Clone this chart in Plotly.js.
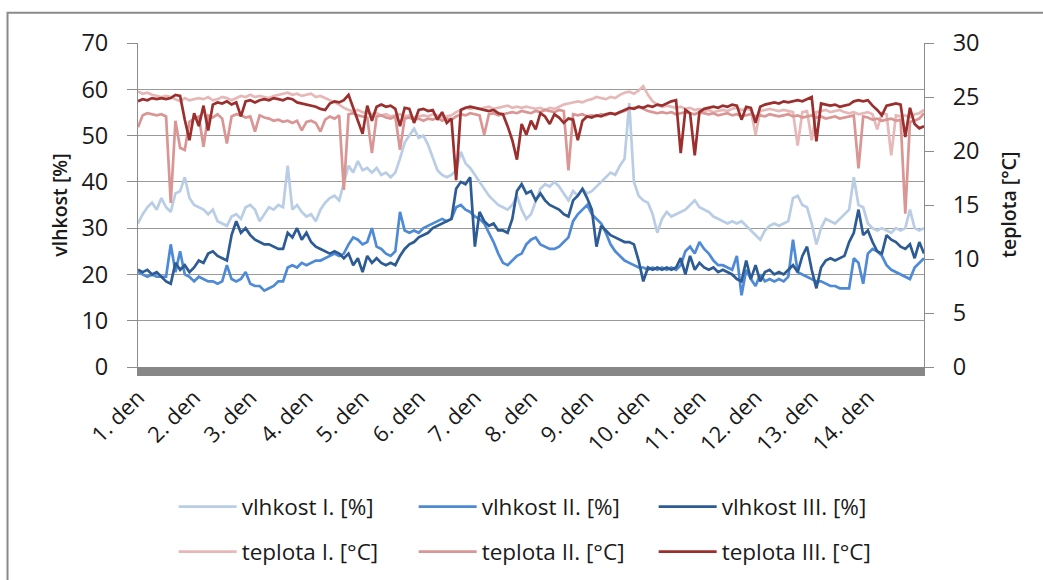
<!DOCTYPE html>
<html>
<head>
<meta charset="utf-8">
<script src="https://cdn.plot.ly/plotly-3.0.1.min.js"></script>
<style>
  html, body { margin: 0; padding: 0; background: #ffffff; }
  #chart { width: 1043px; height: 580px; }
</style>
</head>
<body>
<div id="chart"></div>
<script>
// ---- data (12 readings per day, 14 days) ----
const PTS_PER_DAY = 12;
const dayLabels = ["1. den","2. den","3. den","4. den","5. den","6. den","7. den",
                   "8. den","9. den","10. den","11. den","12. den","13. den","14. den"];
const leftTitle = 'vlhkost [%]';
const rightTitle = 'teplota [°C]';

const vlhkostI = [
  31, 33, 34.5, 35.5, 34, 36.5, 34.5, 33.5, 37.5, 38, 41, 36.5, 35,
  34.5, 34, 33, 34, 31.5, 31, 30.5, 32.5, 33, 32, 34.5, 35,
  34, 31.5, 33, 34.5, 34, 35, 34.5, 43.5, 34, 35, 33.5, 32.5,
  33, 31.5, 34, 35.5, 36.5, 37, 36, 40, 43.5, 42, 44.5, 42.5,
  43, 42, 43, 41.5, 42, 41, 42, 45, 48.5, 50, 51.5, 49.5,
  50, 48, 45, 42.5, 41.5, 41, 41.5, 42.5, 46.5, 44, 43, 41.5,
  40, 38.5, 37, 36, 35, 34.5, 34, 35, 37, 34, 32, 33,
  36, 38.5, 39.5, 39, 40, 39, 37.5, 36, 38, 37, 38.5, 37.5,
  38, 39, 40, 41, 42, 41.5, 43.5, 45, 57, 40, 37, 36,
  35.5, 33, 29, 32, 33.5, 32.5, 33, 33.5, 34, 35, 36, 34.5,
  34, 33.5, 32.5, 32, 31.5, 31, 31.5, 31, 31.5, 30.5, 29.5, 28.5,
  27.5, 29.5, 30.5, 31, 30.5, 31, 31.5, 36.5, 37, 35, 34.5, 31,
  26.5, 30, 32, 31.5, 31, 32, 33, 34, 41, 35, 34.5, 31,
  30, 29.5, 30, 29.5, 29, 30, 29.5, 30, 34, 30, 29.5, 30
];
const vlhkostII = [
  20.5, 20, 19.5, 20, 19.5, 19.5, 19.5, 26.5, 20.5, 25, 20, 19.5, 18.5,
  19.5, 19, 18.5, 18.5, 18, 18.5, 22, 19, 18.5, 19, 20.5, 18,
  17.5, 17.5, 16.5, 17, 17.5, 18.5, 18.5, 21.5, 22, 21.5, 22.5, 22,
  22.5, 23, 23, 23.5, 24, 24.5, 24, 24.5, 26.5, 28, 27.5, 26.5,
  27, 30, 26, 25.5, 24.5, 24, 25, 33.5, 29.5, 29, 29.5, 29,
  30, 30.5, 31, 31.5, 32, 31.5, 32, 34.5, 35, 34, 33.5, 32.5,
  32, 31, 29, 27, 24.5, 22.5, 22, 23, 24, 24.5, 26.5, 27.5,
  28, 26.5, 26, 25.5, 25.5, 26, 27, 28, 31.5, 33, 34, 35,
  33, 32, 31, 29, 26.5, 25, 24, 23, 22.5, 22, 21.5, 21.5,
  21, 21.5, 21, 21.5, 21, 21.5, 21, 22, 25, 26, 24.5, 27,
  25.5, 24.5, 23, 22, 22, 21.5, 21, 24, 15.5, 21, 19, 17.5,
  20, 18.5, 19, 18.5, 19, 18.5, 19.5, 27.5, 20.5, 20, 19.5, 19,
  18.5, 18.5, 18, 17.5, 17.5, 17, 17, 17, 23.5, 22.5, 18, 24.5,
  25.5, 25, 24, 22, 21, 20.5, 20, 19.5, 19, 21.5, 22.5, 23.5
];
const vlhkostIII = [
  21, 20.5, 21, 20, 20.5, 19.5, 18.5, 18, 22.5, 21, 22, 20.5, 21.5,
  23, 22.5, 24.5, 25, 24, 23.5, 23, 28.5, 31.5, 29, 30, 28.5,
  27.5, 27, 26.5, 26.5, 26, 25.5, 25.5, 29, 28, 30, 27.5, 29,
  27, 26, 25.5, 25, 24.5, 25, 24.5, 23.5, 24.5, 22, 23.5, 20.5,
  24, 22.5, 23.5, 22.5, 22, 22.5, 22, 24, 25.5, 26.5, 27, 28,
  28.5, 29, 30, 30.5, 31, 31.5, 32, 38.5, 40, 39.5, 41, 26,
  33.5, 31.5, 30.5, 31, 29.5, 29.5, 29, 32, 38, 39.5, 37.5, 38,
  36, 37.5, 36, 35, 34.5, 34, 33, 32.5, 36, 37, 38.5, 36.5,
  34, 26, 30.5, 29.5, 28.5, 28, 27.5, 27, 27, 26.5, 23, 18.5,
  21.5, 21, 21.5, 21, 21.5, 21, 21.5, 23.5, 20, 24, 21, 22.5,
  21.5, 21, 21.5, 20.5, 21, 20.5, 20, 19, 18.5, 23, 19, 22,
  18.5, 20.5, 21, 20, 20.5, 20, 21, 22, 20.5, 24, 26, 21,
  17, 21.5, 23, 23.5, 23, 23.5, 24, 27, 29, 34, 28.5, 29.5,
  27, 25, 24.5, 28.5, 27.5, 27, 26, 25.5, 26.5, 23.5, 27, 24.5
];
const teplotaI = [
  25.5, 25.3, 25.4, 25.2, 25.1, 25, 25.1, 25, 24.8, 24.6, 24.9, 24.7, 24.8,
  24.9, 24.8, 25, 24.7, 24.8, 25, 24.9, 24.7, 24.9, 25.1, 25, 25.2,
  25, 25.1, 25, 24.9, 25.1, 25.2, 25.3, 25.4, 25.2, 25.3, 25.1, 25.2,
  25.3, 25, 25.1, 24.9, 24.7, 24.5, 24.3, 24, 23.8, 23.7, 23.8, 23.6,
  23.5, 23.4, 23.5, 23.3, 23.4, 23.2, 23.3, 23.4, 23.2, 23.3, 23.1, 23.2,
  23.3, 23.2, 23.4, 23.3, 23.1, 23.2, 23.3, 23.6, 23.8, 24, 23.9, 24,
  23.9, 24, 24.1, 23.9, 24, 24.1, 24.2, 24, 24.1, 24, 24.1, 24,
  23.9, 24, 23.8, 24, 23.9, 24.1, 24.3, 24.4, 24.5, 24.6, 24.5, 24.7,
  24.8, 25, 24.9, 24.8, 25, 24.9, 25.2, 25.4, 25.5, 25.3, 25.6, 26,
  25.2, 24.6, 24.3, 24.1, 24.2, 24.1, 24, 24.1, 23.9, 24, 23.8, 23.9,
  23.7, 23.8, 23.6, 23.7, 23.8, 23.7, 23.9, 24, 23.8, 23.9, 23.8, 21.5,
  23.7, 23.8, 23.9, 23.8, 23.7, 23.8, 23.7, 23.6, 20.5, 23.6, 23.7, 21,
  23.6, 23.7, 23.8, 23.6, 23.7, 23.8, 23.6, 23.5, 23.6, 23.4, 23.5, 23.6,
  23.4, 22, 23.5, 23.4, 19.6, 23.3, 23.2, 23.3, 23.1, 23.4, 23.5, 23.8
];
const teplotaII = [
  22.2, 23.3, 23.5, 23.4, 23.3, 23.4, 23.2, 15.2, 22.8, 20.3, 20.1, 22.7, 23,
  23.2, 20.4, 23.3, 23.1, 23.4, 23, 20.7, 23.2, 23.4, 23.3, 23.1, 23.2,
  21.8, 23.3, 23.1, 23, 22.8, 22.9, 22.7, 22.8, 22.6, 22.8, 21.9, 22.7,
  22.8, 22.6, 21.8, 22.9, 23.2, 23, 23.3, 16.4, 23.4, 23.5, 23.3, 23.2,
  23.1, 19.8, 23.2, 23.3, 23.1, 23, 23.2, 20.1, 23, 23.1, 22.9, 23,
  22.8, 23, 22.9, 23.1, 22.8, 23, 22.9, 23.2, 23.4, 23.3, 23.5, 23.4,
  23.3, 21.5, 23.4, 23.5, 23.3, 23.4, 23.5, 23.6, 23.5, 23.7, 23.6, 23.5,
  23.7, 23.6, 23.8, 23.7, 23.6, 23.8, 23.7, 18.2, 23.4, 23.3, 23.4, 23.2,
  23.3, 23.2, 23.4, 23.3, 23.5, 23.4, 23.6, 23.7, 23.9, 24, 24.1, 23.9,
  23.7, 23.6, 23.5, 23.6, 23.5, 23.6, 23.4, 23.5, 23.6, 23.5, 23.4, 23.6,
  23.5, 23.4, 23.5, 23.3, 23.4, 23.5, 23.3, 23.4, 23.2, 23.3, 23.4, 23.2,
  23.3, 23.2, 23.4, 23.3, 23.2, 23.3, 23.4, 23.2, 23.3, 23.1, 23.2, 23.3,
  23.1, 23.2, 23, 23.1, 23.2, 23, 23.1, 23.2, 23.3, 18.4, 23.2, 23.1,
  22.9, 23, 22.8, 22.9, 23, 22.8, 22.9, 14.2, 22.7, 22.8, 23, 23.5
];
const teplotaIII = [
  24.6, 24.8, 24.7, 24.9, 24.8, 24.9, 24.8, 24.9, 25.2, 25.1, 22.9, 21, 23.5,
  22.3, 24.2, 21.9, 24.3, 24.5, 24.4, 24.6, 24.3, 24.5, 23.2, 24.6, 24.7,
  24.5, 24.7, 24.8, 24.7, 24.9, 24.8, 24.7, 24.9, 24.8, 24.5, 24.4, 24.3,
  24.2, 24.1, 23.9, 23.8, 24.4, 24.6, 24.5, 24.7, 25.2, 24, 23, 21.6,
  24.2, 22.8, 24.1, 24.3, 24.1, 24.2, 23.9, 22.3, 24, 23.9, 22.6, 23.8,
  23.9, 23.7, 23.8, 22.9, 23.6, 22.6, 23, 17.3, 23.8, 24, 24.1, 24,
  23.9, 23.8, 23.7, 23.8, 23.5, 23.4, 22.3, 21, 19.2, 22.5, 21.5, 22.8,
  22, 23.5, 23.2, 22.5, 23.4, 23.1, 22.6, 23, 22.9, 21, 22.8, 23.2,
  23.1, 23.3, 23.2, 23.4, 23.5, 23.4, 23.6, 23.8, 24, 23.9, 24.1, 24,
  24.2, 24.1, 24.3, 24.2, 24.4, 24.6, 24.7, 19.8, 23.8, 23.5, 19.6, 23.6,
  23.9, 24, 24.1, 24, 24.2, 24.1, 24.3, 24.2, 22.9, 24.1, 24, 22.6,
  24.1, 24.3, 24.4, 24.5, 24.4, 24.6, 24.5, 24.6, 24.7, 24.6, 24.8, 25,
  20.9, 24.4, 24.3, 24.2, 24.3, 24.1, 24.2, 24.3, 24.6, 24.7, 24.6, 24.7,
  24.2, 23.8, 23.3, 24.2, 24.3, 24.4, 24.3, 21.3, 24, 22.5, 22.1, 22.3
];

// ---- chart ----
const FONT = 'Open Sans, sans-serif';
const TXT = '#1a1a1a';
const t = vlhkostI.map((_, i) => i / PTS_PER_DAY);
const dayTicks = dayLabels.map((_, i) => i);

function tr(name, y, color, axis, legend) {
  return {
    type: 'scatter', mode: 'lines', name: name, x: t, y: y,
    yaxis: axis, legend: legend,
    line: { color: color, width: 2.7 },
    hoverinfo: 'skip'
  };
}

const data = [
  tr('vlhkost I. [%]',   vlhkostI,   '#b9cde5', 'y',  'legend'),
  tr('vlhkost II. [%]',  vlhkostII,  '#4f8ad6', 'y',  'legend'),
  tr('vlhkost III. [%]', vlhkostIII, '#2d5b94', 'y',  'legend'),
  tr('teplota I. [°C]',   teplotaI,   '#e6b9b8', 'y2', 'legend2'),
  tr('teplota II. [°C]',  teplotaII,  '#d99694', 'y2', 'legend2'),
  tr('teplota III. [°C]', teplotaIII, '#9b2f2d', 'y2', 'legend2')
];

const legendBase = {
  orientation: 'h', xref: 'container', yref: 'container',
  xanchor: 'left', yanchor: 'middle',
  entrywidth: 167, entrywidthmode: 'pixels', itemwidth: 58,
  font: { family: FONT, size: 22.5, color: TXT },
  bgcolor: 'rgba(0,0,0,0)', traceorder: 'normal'
};

const titleFont = { family: FONT, size: 19.5, color: TXT, weight: 600 };

const layout = {
  width: 1043, height: 580,
  margin: { l: 138, r: 119, t: 43, b: 213, pad: 0 },
  paper_bgcolor: '#ffffff', plot_bgcolor: '#ffffff',
  font: { family: FONT, color: TXT },
  showlegend: true,
  xaxis: {
    range: [0, 14], tickmode: 'array', tickvals: dayTicks, ticktext: dayLabels,
    tickangle: -45, showgrid: false, zeroline: false, automargin: false,
    showline: true, linewidth: 9, linecolor: '#878787',
    ticks: '', tickfont: { family: FONT, size: 22, color: TXT }
  },
  yaxis: {
    range: [0, 70], dtick: 10, tick0: 0,
    showgrid: true, gridcolor: '#9a9a9a', gridwidth: 1,
    zeroline: false, showline: true, linecolor: '#8c8c8c', linewidth: 1,
    ticks: 'outside', ticklen: 10, tickcolor: '#8c8c8c', ticklabelstandoff: 14,
    tickfont: { family: FONT, size: 23.5, color: TXT }
  },
  yaxis2: {
    overlaying: 'y', side: 'right', anchor: 'x',
    range: [0, 30], dtick: 5, tick0: 0,
    showgrid: false, zeroline: false, showline: true, linecolor: '#8c8c8c', linewidth: 1,
    ticks: 'outside', ticklen: 9, tickcolor: '#8c8c8c', ticklabelstandoff: 14,
    tickfont: { family: FONT, size: 23.5, color: TXT }
  },
  annotations: [
    { text: leftTitle, xref: 'paper', yref: 'paper', x: -0.1009, y: 0.5,
      xanchor: 'center', yanchor: 'middle', textangle: -90, showarrow: false,
      font: titleFont },
    { text: rightTitle, xref: 'paper', yref: 'paper', x: 1.1065, y: 0.5,
      xanchor: 'center', yanchor: 'middle', textangle: -90, showarrow: false,
      font: titleFont }
  ],
  legend: Object.assign({}, legendBase, { x: 0.1665, y: 0.1259 }),
  legend2: Object.assign({}, legendBase, { x: 0.1665, y: 0.0483 }),
  shapes: [{
    type: 'path', xref: 'paper', yref: 'paper',
    path: 'M -0.166,-0.75 L -0.166,1.0935 L 1.2,1.0935',
    line: { color: '#8a8a8a', width: 2 }
  }]
};

Plotly.newPlot('chart', data, layout, { staticPlot: true, displayModeBar: false });
</script>
</body>
</html>
